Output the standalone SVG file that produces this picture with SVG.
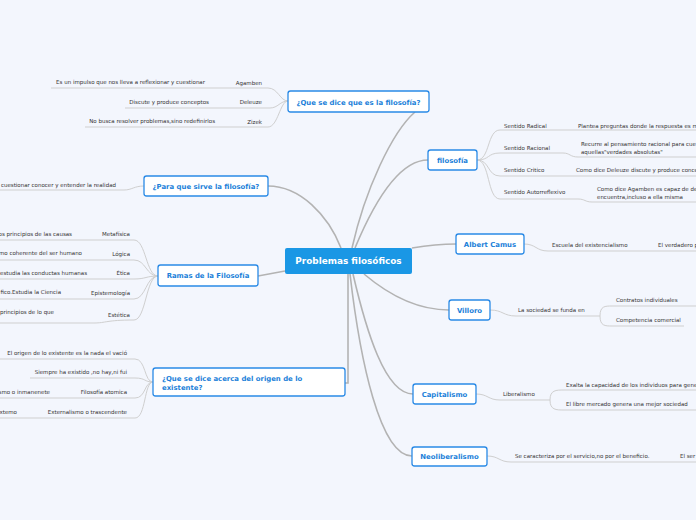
<svg xmlns="http://www.w3.org/2000/svg" width="696" height="520" viewBox="0 0 696 520">
<style>
.main{fill:none;stroke:#b3b3b3;stroke-width:1.6}
.sub{fill:none;stroke:#cfcfcf;stroke-width:1}
.node rect{fill:#fff;stroke:#2a8ae6;stroke-width:1.3}
.nt{font-family:"DejaVu Sans",Verdana,sans-serif;font-weight:bold;font-size:6.9px;fill:#1b7fd9}
.t{font-family:"DejaVu Sans",Verdana,sans-serif;font-size:5.5px;fill:#333}
</style>
<rect width="696" height="520" fill="#f3f6fd"/>
<g id="connectors">
<path class="main" d="M268,186 C300,186 328,215 341,248"/>
<path class="main" d="M352,248 C365,190 392,132 415,112"/>
<path class="main" d="M355,248 C375,200 400,160 428,160"/>
<path class="main" d="M412,248 C430,245 440,244 456,244"/>
<path class="main" d="M258,276 L285,271"/>
<path class="main" d="M348,274 L348,383 L345,383"/>
<path class="main" d="M364,274 C390,296 420,310 449,310"/>
<path class="main" d="M353,274 C366,330 385,394 413,394"/>
<path class="main" d="M350,274 C360,360 380,456 412,456"/>
<path class="sub" d="M51,88 L268,88 C278,88 280,101 288,101"/>
<path class="sub" d="M125,108 L270,108 C278,108 280,101 288,101"/>
<path class="sub" d="M85,127 L268,127 C278,127 280,101 288,101"/>
<path class="sub" d="M0,190 L124,190 C132,190 134,186 144,186"/>
<path class="sub" d="M0,240 L134,240 C146,240 146,276 158,276"/>
<path class="sub" d="M0,260 L134,260 C146,260 146,276 158,276"/>
<path class="sub" d="M0,279 L134,279 C146,279 146,276 158,276"/>
<path class="sub" d="M0,299 L134,299 C146,299 146,276 158,276"/>
<path class="sub" d="M0,323 L94,323 C106,323 106,320 134,320 C146,320 146,276 158,276"/>
<path class="sub" d="M0,359 L135,359 C146,359 144,382 153,382"/>
<path class="sub" d="M30,378 L135,378 C146,378 144,382 153,382"/>
<path class="sub" d="M0,398 L135,398 C146,398 144,382 153,382"/>
<path class="sub" d="M0,418 L135,418 C146,418 144,382 153,382"/>
<path class="sub" d="M477,160 C490,160 487,130 500,130 L696,130"/>
<path class="sub" d="M477,160 C490,160 487,153 500,153 L563,153 C570,153 570,157 578,157 L696,157"/>
<path class="sub" d="M477,160 C490,160 487,176 500,176 L696,176"/>
<path class="sub" d="M477,160 C490,160 487,199 500,199 L578,199 C585,199 585,202 592,202 L696,202"/>
<path class="sub" d="M524,244 C536,244 536,251 548,251 L696,251"/>
<path class="sub" d="M490,310 C503,310 503,316 516,316 L600,316"/>
<path class="sub" d="M600,316 C600,306 605,306 612,306 L696,306"/>
<path class="sub" d="M600,316 C600,326 605,326 612,326 L684,326"/>
<path class="sub" d="M476,394 C488,394 488,400 500,400 L550,400"/>
<path class="sub" d="M550,400 C550,390 556,390 564,390 L696,390"/>
<path class="sub" d="M550,400 C550,410 556,410 564,410 L696,410"/>
<path class="sub" d="M487,456 C499,456 499,462 511,462 L696,462"/>
</g>
<g id="center">
<rect x="285" y="248" width="127" height="26" rx="2" fill="#1a97e5"/>
<text x="348.5" y="264.2" text-anchor="middle" font-family="DejaVu Sans,Verdana,sans-serif" font-weight="bold" font-size="8.9px" fill="#fff">Problemas filosóficos</text>
</g>
<g id="n-que-es" class="node">
<rect x="288" y="91" width="141" height="21" rx="2.5"/>
<text class="nt" x="358.5" y="104.5" text-anchor="middle">¿Que se dice que es la filosofía?</text>
</g>
<g id="n-para-que" class="node">
<rect x="144" y="176" width="124" height="20" rx="2.5"/>
<text class="nt" x="206" y="188.5" text-anchor="middle">¿Para que sirve la filosofía?</text>
</g>
<g id="n-ramas" class="node">
<rect x="158" y="265" width="100" height="21" rx="2.5"/>
<text class="nt" x="208" y="278" text-anchor="middle">Ramas de la Filosofía</text>
</g>
<g id="n-origen" class="node">
<rect x="153" y="368" width="192" height="28" rx="2.5"/>
<text class="nt" x="162" y="380.5">¿Que se dice acerca del origen de lo</text>
<text class="nt" x="162" y="389.5">existente?</text>
</g>
<g id="n-filosofia" class="node">
<rect x="428" y="150" width="49" height="20" rx="2.5"/>
<text class="nt" x="452.5" y="162.5" text-anchor="middle">filosofía</text>
</g>
<g id="n-camus" class="node">
<rect x="456" y="234" width="68" height="20" rx="2.5"/>
<text class="nt" x="490" y="246.5" text-anchor="middle">Albert Camus</text>
</g>
<g id="n-villoro" class="node">
<rect x="449" y="300" width="41" height="20" rx="2.5"/>
<text class="nt" x="469.5" y="312.5" text-anchor="middle">Villoro</text>
</g>
<g id="n-capitalismo" class="node">
<rect x="413" y="384" width="63" height="20" rx="2.5"/>
<text class="nt" x="444.5" y="396.5" text-anchor="middle">Capitalismo</text>
</g>
<g id="n-neoliberalismo" class="node">
<rect x="412" y="447" width="75" height="19" rx="2.5"/>
<text class="nt" x="449.5" y="459" text-anchor="middle">Neoliberalismo</text>
</g>
<g id="labels">
<text class="t" x="262" y="85" text-anchor="end">Agamben</text>
<text class="t" x="205" y="84" text-anchor="end">Es un impulso que nos lleva a reflexionar y cuestionar</text>
<text class="t" x="262" y="104" text-anchor="end">Deleuze</text>
<text class="t" x="209" y="104" text-anchor="end">Discute y produce conceptos</text>
<text class="t" x="262" y="124" text-anchor="end">Zizek</text>
<text class="t" x="215" y="123" text-anchor="end">No busca resolver problemas,sino redefinirlos</text>
<text class="t" x="116" y="187" text-anchor="end">cuestionar conocer y entender la realidad</text>
<text class="t" x="130" y="236" text-anchor="end">Metafísica</text>
<text class="t" x="72" y="236" text-anchor="end">os principios de las causas</text>
<text class="t" x="130" y="256" text-anchor="end">Lógica</text>
<text class="t" x="82" y="255" text-anchor="end">mo coherente del ser humano</text>
<text class="t" x="130" y="275" text-anchor="end">Ética</text>
<text class="t" x="87" y="275" text-anchor="end">estudia las conductas humanas</text>
<text class="t" x="130" y="295" text-anchor="end">Epistemología</text>
<text class="t" x="61" y="294" text-anchor="end">fico.Estudia la Ciencia</text>
<text class="t" x="130" y="317" text-anchor="end">Estética</text>
<text class="t" x="54" y="314" text-anchor="end">principios de lo que</text>
<text class="t" x="127" y="355" text-anchor="end">El origen de lo existente es la nada el vació</text>
<text class="t" x="127" y="374" text-anchor="end">Siempre ha existido ,no hay,ni fui</text>
<text class="t" x="127" y="394" text-anchor="end">Filosofía atomica</text>
<text class="t" x="50" y="394" text-anchor="end">smo o inmanenete</text>
<text class="t" x="127" y="414" text-anchor="end">Externalismo o trascendente</text>
<text class="t" x="17" y="414" text-anchor="end">xtemo</text>
<text class="t" x="504" y="128">Sentido Radical</text>
<text class="t" x="578" y="128">Plantea preguntas donde la respuesta es m</text>
<text class="t" x="504" y="150">Sentido Racional</text>
<text class="t" x="581" y="146">Recurre al pensamiento racional para cue</text>
<text class="t" x="581" y="154">aquellas"verdades absolutas"</text>
<text class="t" x="504" y="172">Sentido Critico</text>
<text class="t" x="576" y="172">Como dice Deleuze discute y produce conce</text>
<text class="t" x="504" y="194">Sentido Autorreflexivo</text>
<text class="t" x="597" y="191">Como dice Agamben es capaz de de</text>
<text class="t" x="597" y="199">encuentra,incluso a ella misma</text>
<text class="t" x="552" y="247">Escuela del existencialismo</text>
<text class="t" x="658" y="247">El verdadero p</text>
<text class="t" x="518" y="312">La sociedad se funda en</text>
<text class="t" x="616" y="302">Contratos individuales</text>
<text class="t" x="616" y="322">Competencia comercial</text>
<text class="t" x="503" y="396">Liberalismo</text>
<text class="t" x="566" y="387">Exalta la capacidad de los individuos para gene</text>
<text class="t" x="566" y="406">El libre mercado genera una mejor sociedad</text>
<text class="t" x="515" y="458">Se caracteriza por el servicio,no por el beneficio.</text>
<text class="t" x="680" y="458">El ser</text>
</g>
</svg>
